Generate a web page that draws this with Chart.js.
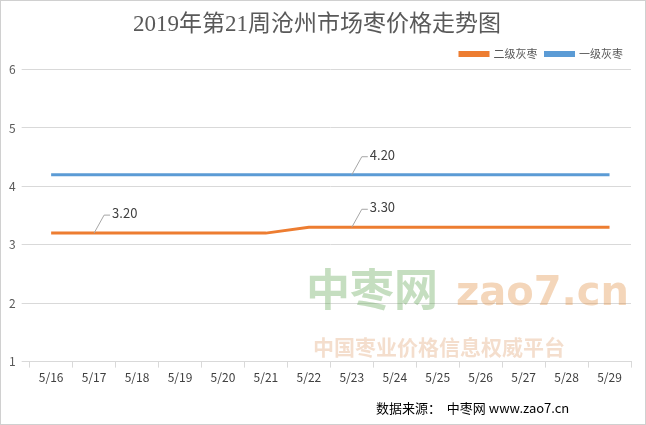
<!DOCTYPE html>
<html><head><meta charset="utf-8">
<script src="https://cdn.jsdelivr.net/npm/chart.js@4"></script>
<style>
html,body{margin:0;padding:0;background:#fff;}
#wrap{position:absolute;left:0;top:0;width:644px;height:423px;border:1px solid #d0d0d0;}
</style></head><body>
<div id="wrap"><canvas id="c" width="644" height="423"></canvas></div>
<script>
const categories = ["5/16","5/17","5/18","5/19","5/20","5/21","5/22","5/23","5/24","5/25","5/26","5/27","5/28","5/29"];
const grade2 = [3.2,3.2,3.2,3.2,3.2,3.2,3.3,3.3,3.3,3.3,3.3,3.3,3.3,3.3];
const grade1 = [4.2,4.2,4.2,4.2,4.2,4.2,4.2,4.2,4.2,4.2,4.2,4.2,4.2,4.2];
const calloutIdx = [[0,1],[0,7],[1,7]]; // [dataset, index]
const FONT = "'Noto Sans CJK SC','Noto Sans',sans-serif";

const extras = {
  id:'extras',
  afterDatasetsDraw(chart){
    const ctx = chart.ctx, x = chart.scales.x, y = chart.scales.y;
    ctx.save();
    ctx.globalAlpha = 0.35;
    ctx.fillStyle = '#5aa04a';
    ctx.font = "bold 44px " + FONT;
    ctx.textBaseline = 'middle';
    ctx.fillText('中枣网', 305, 288);
    ctx.font = "bold 40px 'DejaVu Sans',sans-serif";
    ctx.fillStyle = '#e08a3a';
    ctx.fillText('zao7.cn', 455, 294);
    ctx.font = "bold 21px " + FONT;
    ctx.fillStyle = '#e0a070';
    ctx.fillText('中国枣业价格信息权威平台', 312, 346);
    ctx.globalAlpha = 1;
    ctx.strokeStyle = '#a6a6a6'; ctx.lineWidth = 1;
    ctx.fillStyle = '#404040';
    ctx.font = "13px " + FONT;
    ctx.textBaseline = 'middle';
    calloutIdx.forEach(([d,i])=>{
      const v = chart.data.datasets[d].data[i];
      const px = x.getPixelForValue(i), py = y.getPixelForValue(v);
      ctx.beginPath(); ctx.moveTo(px,py); ctx.lineTo(px+10,py-18); ctx.lineTo(px+16,py-18); ctx.stroke();
      ctx.fillText(v.toFixed(2), px+18, py-20);
    });
    ctx.fillStyle = '#000';
    ctx.font = "13px " + FONT;
    ctx.fillText('数据来源：  中枣网 www.zao7.cn', 375, 407);
    ctx.restore();
  }
};

new Chart(document.getElementById('c'), {
  type:'line',
  data:{labels:categories, datasets:[
    {label:'二级灰枣', data:grade2, borderColor:'#ED7D31', backgroundColor:'#ED7D31', borderWidth:3, pointRadius:0, tension:0},
    {label:'一级灰枣', data:grade1, borderColor:'#5B9BD5', backgroundColor:'#5B9BD5', borderWidth:3, pointRadius:0, tension:0}
  ]},
  options:{
    responsive:false, animation:false,
    layout:{padding:{left:2,right:14,top:2,bottom:36}},
    plugins:{
      title:{display:true, text:'2019年第21周沧州市场枣价格走势图', color:'#595959', font:{family:"'Liberation Serif','Noto Sans CJK SC',serif",size:23,weight:'normal'}, padding:{top:8,bottom:2}},
      legend:{display:true, align:'end', labels:{boxWidth:28, boxHeight:3, color:'#595959', font:{family:FONT,size:11}, padding:8}},
      tooltip:{enabled:false}
    },
    scales:{
      x:{offset:true, grid:{display:true, drawOnChartArea:false, color:'#d9d9d9', offset:true, tickLength:6}, border:{color:'#d9d9d9'},
         ticks:{color:'#404040', font:{family:FONT,size:12}, maxRotation:0, autoSkip:false}},
      y:{min:1, max:6, grid:{color:'#d9d9d9'}, border:{display:false},
         ticks:{stepSize:1, color:'#595959', font:{family:FONT,size:12}, padding:6}}
    }
  },
  plugins:[extras]
});
</script></body></html>
